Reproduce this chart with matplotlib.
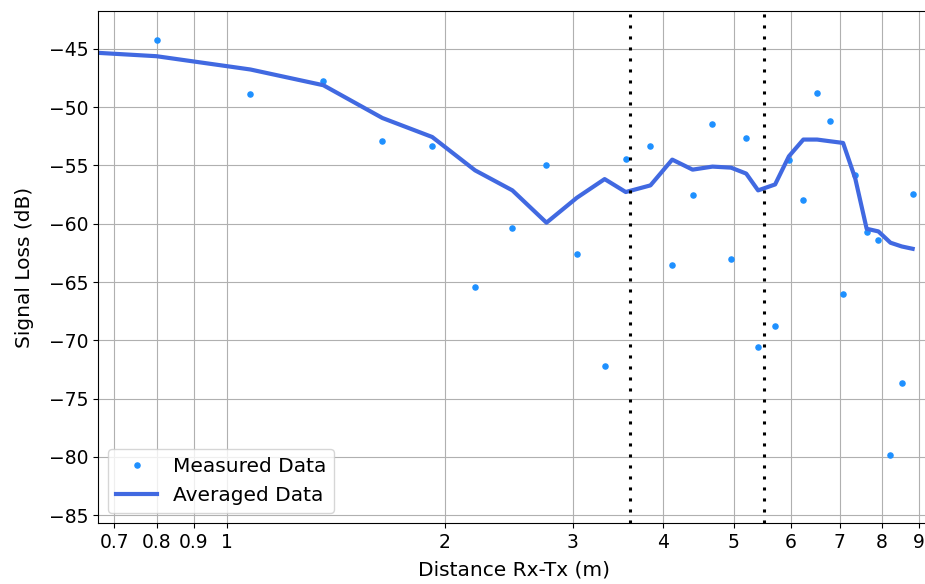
import numpy as np
import matplotlib
matplotlib.use('Agg')
import matplotlib.pyplot as plt

# measured points
dist = [0.8, 1.078, 1.359, 1.639, 1.92, 2.2, 2.477, 2.76, 3.04, 3.32, 3.55, 3.84,
        4.115, 4.39, 4.676, 4.96, 5.205, 5.405, 5.705, 5.96, 6.24, 6.52, 6.80,
        7.08, 7.36, 7.63, 7.92, 8.23, 8.53, 8.83]
loss = [-44.25, -48.83, -47.77, -52.9, -53.3, -65.39, -60.4, -54.93, -62.58, -72.23,
        -54.42, -53.3, -63.5, -57.51, -51.44, -63.04, -52.65, -70.6, -68.74, -54.56,
        -58.0, -48.75, -51.21, -66.01, -55.79, -60.69, -61.43, -79.82, -73.66, -57.48]

# averaged curve
avg_dist = [0.52] + dist
avg_loss = [-44.96, -45.63, -46.77, -48.12, -50.93, -52.56, -55.42, -57.14, -59.91,
            -57.77, -56.17, -57.28, -56.71, -54.5, -55.36, -55.1, -55.19, -55.7,
            -57.14, -56.63, -54.22, -52.78, -52.78, -52.93, -53.07, -56.14, -60.43,
            -60.66, -61.63, -61.95, -62.15]

markers = [3.6, 5.5]
xticks = [0.7, 0.8, 0.9, 1, 2, 3, 4, 5, 6, 7, 8, 9]
xtick_labels = ['0.7', '0.8', '0.9', '1', '2', '3', '4', '5', '6', '7', '8', '9']

fig = plt.figure(figsize=(9.25, 5.84), dpi=100)
ax = fig.add_axes([0.1063, 0.1039, 0.898, 0.8773])

ax.plot(dist, loss, 'o', color='dodgerblue', ms=3.7, label='Measured Data')
ax.plot(avg_dist, avg_loss, color='royalblue', lw=3, label='Averaged Data')
for m in markers:
    ax.axvline(m, color='black', lw=2.2, linestyle=(0, (1, 2.6)))

ax.set_xscale('log')
ax.set_xlim(0.665, 9.3)
ax.set_ylim(-85.7, -41.75)
ax.set_xticks(xticks)
ax.set_xticklabels(xtick_labels)
ax.xaxis.set_minor_locator(matplotlib.ticker.NullLocator())
ax.set_yticks(np.arange(-85, -44, 5))
ax.tick_params(labelsize=13.5)
ax.spines['right'].set_visible(False)
ax.set_xlabel('Distance Rx-Tx (m)', fontsize=14.5, labelpad=6)
ax.set_ylabel('Signal Loss (dB)', fontsize=14.5, labelpad=11)
ax.grid(True)
ax.legend(loc='lower left', fontsize=14.5)

fig.savefig('out.png', dpi=100)
